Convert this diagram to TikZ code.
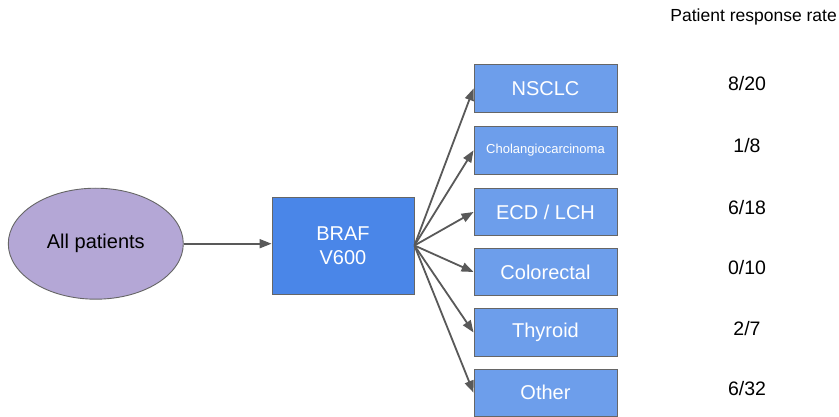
\documentclass[tikz,border=0pt]{standalone}
\usepackage{fontspec}
\setmainfont{Liberation Sans}
\usetikzlibrary{arrows.meta,shapes.geometric}
\definecolor{ellfill}{HTML}{B4A7D6}
\definecolor{brafblue}{HTML}{4A86E8}
\definecolor{subblue}{HTML}{6D9EEB}
\definecolor{edgegray}{HTML}{666666}
\definecolor{arrowgray}{HTML}{595959}
\tikzset{
  rootnode/.style={ellipse, draw=edgegray, line width=0.9pt, fill=ellfill,
    minimum width=175pt, minimum height=111pt, inner sep=0pt,
    font=\fontsize{20}{24}\selectfont, text=black},
  brafbox/.style={rectangle, draw=edgegray, line width=0.9pt, fill=brafblue,
    minimum width=142pt, minimum height=97pt, inner sep=0pt, align=center,
    font=\fontsize{20}{24}\selectfont, text=white},
  subbox/.style={rectangle, draw=edgegray, line width=0.9pt, fill=subblue,
    minimum width=143pt, minimum height=47.5pt, inner sep=0pt,
    font=\fontsize{20}{24}\selectfont, text=white},
  ratetext/.style={font=\fontsize{19.5}{24}\selectfont, text=black},
  link/.style={draw=arrowgray, line width=1.8pt,
    -{Triangle[length=12pt,width=9pt]}},
}
\begin{document}
\begin{tikzpicture}[x=1pt, y=-1pt]
  \useasboundingbox (0,0) rectangle (839,417);
  \fill[white] (0,0) rectangle (839,417);

  % header of the rate column
  \node[anchor=east, font=\fontsize{17.5}{21}\selectfont, inner sep=0pt]
    (hdr) at (837,17) {Patient response rate};

  % root and the BRAF group
  \node[rootnode] (all) at (95.8,243.7) {All patients};
  \node[brafbox] (braf) at (343,245.5) {BRAF\\V600};

  % tumour types
  \node[subbox] (nsclc) at (545.5,88.5) {NSCLC};
  \node[subbox, font=\fontsize{13}{16}\selectfont] (chol) at (545.5,150.3) {Cholangiocarcinoma};
  \node[subbox] (ecd) at (545.5,212) {ECD / LCH};
  \node[subbox] (colo) at (545.5,272) {Colorectal};
  \node[subbox] (thyr) at (545.5,332.5) {Thyroid};
  \node[subbox] (other) at (545.5,392.7) {Other};

  % response rates
  \node[ratetext] (r1) at (747,84) {8/20};
  \node[ratetext] (r2) at (747,146) {1/8};
  \node[ratetext] (r3) at (747,208) {6/18};
  \node[ratetext] (r4) at (747,268) {0/10};
  \node[ratetext] (r5) at (747,328.5) {2/7};
  \node[ratetext] (r6) at (747,388.5) {6/32};

  % connectors
  \draw[link] (all.east) -- (all.east -| braf.west);
  \foreach \t in {nsclc,chol,ecd,colo,thyr,other}
    \draw[link] (braf.east) -- (\t.west);
\end{tikzpicture}
\end{document}
